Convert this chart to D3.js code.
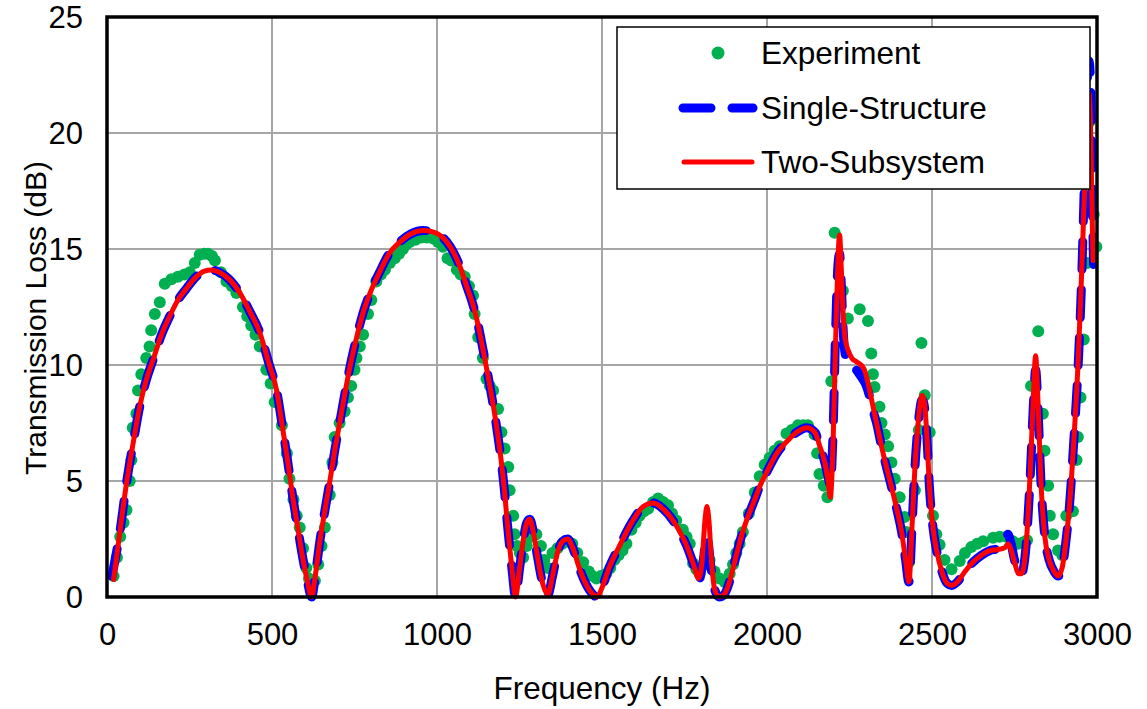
<!DOCTYPE html>
<html>
<head>
<meta charset="utf-8">
<script src="https://cdn.jsdelivr.net/npm/d3@7"></script>
<style>
  body { margin: 0; background: #fff; }
  text { font-family: "Liberation Sans", Arial, sans-serif; fill: #000; }
</style>
</head>
<body>
<svg id="chart" width="1147" height="709"></svg>
<script>
var dimensions = {
    width: 1147,
    height: 709,
    margin: { top: 17, bottom: 112, left: 107, right: 50 }
}

var xTicks = [0, 500, 1000, 1500, 2000, 2500, 3000];
var yTicks = [0, 5, 10, 15, 20, 25];
var seriesNames = ['Experiment', 'Single-Structure', 'Two-Subsystem'];

// experiment (Hz, dB)
var expFreq = [20, 30, 40, 50, 59, 69, 74, 78, 89, 94, 104, 119, 129, 134, 145, 160, 175, 195, 215, 235,
  251, 266, 281, 295, 306, 318, 327, 345, 362, 378, 392, 412, 425, 437, 450, 463, 483, 496, 508, 530,
  545, 553, 565, 575, 584, 594, 604, 612, 619, 630, 640, 650, 660, 675, 683, 690, 705, 720, 730, 740,
  750, 756, 766, 776, 791, 801, 816, 830, 842, 857, 872, 885, 897, 907, 917, 935, 953, 970, 988, 1003,
  1018, 1032, 1043, 1060, 1072, 1084, 1097, 1109, 1114, 1125, 1139, 1150, 1160, 1170, 1185, 1195, 1205, 1216, 1220, 1231,
  1235, 1243, 1251, 1261, 1272, 1285, 1301, 1315, 1325, 1336, 1350, 1365, 1380, 1395, 1410, 1425, 1443, 1460, 1472, 1483,
  1496, 1513, 1525, 1538, 1550, 1562, 1574, 1589, 1602, 1614, 1627, 1640, 1655, 1670, 1685, 1700, 1712, 1725, 1745, 1756,
  1766, 1776, 1786, 1796, 1810, 1826, 1841, 1856, 1872, 1887, 1897, 1907, 1917, 1927, 1945, 1963, 1978, 1993, 2008, 2023,
  2038, 2059, 2075, 2094, 2110, 2124, 2144, 2152, 2159, 2172, 2183, 2195, 2205, 2230, 2245, 2281, 2306, 2316, 2321, 2326,
  2341, 2347, 2357, 2367, 2377, 2387, 2402, 2417, 2422, 2430, 2448, 2460, 2468, 2478, 2493, 2503, 2513, 2523, 2538, 2559,
  2584, 2600, 2619, 2637, 2655, 2685, 2705, 2725, 2745, 2760, 2775, 2788, 2800, 2822, 2836, 2841, 2852, 2857, 2867, 2882,
  2895, 2907, 2927, 2938, 2942, 2950, 2960, 2970, 2978, 2990, 2998];
var expTL = [0.9, 1.7, 2.6, 3.2, 3.75, 5.0, 5.9, 7.3, 7.9, 8.9, 9.6, 10.3, 10.8, 11.5, 12.2, 12.7, 13.5, 13.7, 13.8, 13.9,
  14.0, 14.4, 14.75, 14.8, 14.8, 14.7, 14.5, 14.0, 13.6, 13.4, 13.1, 12.5, 12.1, 11.7, 11.3, 10.8, 9.8, 9.2, 8.4, 7.4,
  6.2, 5.1, 4.2, 3.5, 3.0, 2.1, 1.25, 0.8, 0.5, 0.7, 1.4, 2.2, 3.0, 4.4, 5.8, 6.9, 7.5, 8.0, 8.6, 9.1,
  9.8, 10.3, 10.8, 11.3, 12.2, 12.8, 13.6, 13.9, 14.1, 14.4, 14.6, 14.8, 15.0, 15.2, 15.3, 15.4, 15.5, 15.5, 15.45, 15.3,
  15.1, 14.6, 14.5, 14.1, 13.9, 13.8, 13.4, 13.0, 12.2, 11.2, 10.3, 9.4, 9.1, 8.9, 8.1, 7.1, 6.4, 5.6, 4.6, 3.5,
  2.7, 2.2, 1.9, 1.7, 2.2, 2.6, 2.7, 2.2, 1.6, 1.25, 1.9, 2.1, 2.3, 2.4, 2.3, 1.9, 1.5, 1.1, 0.9, 0.8,
  0.9, 1.0, 1.25, 1.6, 1.8, 2.0, 2.3, 2.9, 3.2, 3.5, 3.7, 3.8, 4.1, 4.25, 4.1, 3.95, 3.6, 3.3, 2.9, 2.6,
  2.3, 1.45, 1.2, 1.0, 1.4, 1.6, 1.1, 0.8, 0.65, 1.0, 1.4, 1.9, 2.3, 2.8, 3.6, 4.5, 5.2, 5.7, 6.0, 6.3,
  6.5, 7.05, 7.2, 7.4, 7.4, 7.4, 7.0, 6.2, 5.3, 4.8, 4.3, 9.3, 15.7, 13.2, 12.0, 12.4, 11.9, 10.5, 9.6, 9.05,
  8.2, 7.5, 7.0, 6.5, 5.8, 5.1, 4.3, 3.45, 2.8, 1.5, 4.6, 7.2, 10.95, 8.7, 7.1, 3.5, 2.7, 2.25, 1.6, 1.2,
  1.55, 1.9, 2.15, 2.3, 2.4, 2.55, 2.6, 2.6, 2.4, 2.3, 2.35, 2.45, 9.1, 11.45, 7.9, 6.3, 4.8, 3.5, 2.7, 2.0,
  1.8, 3.5, 3.7, 5.9, 6.9, 8.6, 11.1, 14.4, 20.5, 16.5, 15.1];

// two-subsystem model (Hz, dB)
var twoFreq = [20, 40, 59, 80, 99, 120, 139, 165, 190, 215, 241, 270, 295, 317, 340, 370, 403, 433, 463, 490,
  514, 532, 548, 563, 578, 593, 607, 620, 632, 645, 660, 675, 690, 705, 720, 736, 755, 775, 800, 826,
  855, 887, 920, 957, 985, 1008, 1040, 1068, 1090, 1109, 1125, 1139, 1155, 1170, 1185, 1196, 1205, 1213, 1220, 1228,
  1238, 1250, 1262, 1272, 1281, 1292, 1305, 1320, 1336, 1350, 1365, 1380, 1396, 1412, 1430, 1450, 1470, 1485, 1500, 1520,
  1553, 1594, 1625, 1655, 1685, 1715, 1740, 1757, 1775, 1793, 1803, 1812, 1818, 1824, 1832, 1842, 1855, 1870, 1885, 1900,
  1920, 1938, 1960, 1979, 2000, 2030, 2060, 2090, 2121, 2145, 2160, 2175, 2185, 2192, 2200, 2208, 2215, 2220, 2225, 2230,
  2237, 2247, 2257, 2270, 2285, 2295, 2305, 2317, 2332, 2347, 2362, 2378, 2393, 2408, 2420, 2430, 2440, 2448, 2460, 2470,
  2477, 2485, 2492, 2503, 2514, 2530, 2545, 2560, 2580, 2600, 2624, 2650, 2675, 2700, 2715, 2723, 2730, 2738, 2750, 2763,
  2771, 2785, 2798, 2807, 2814, 2821, 2830, 2842, 2855, 2870, 2882, 2895, 2905, 2917, 2930, 2943, 2953, 2963, 2970, 2976,
  2980, 2984, 2988];
var twoTL = [0.75, 2.9, 4.9, 6.7, 8.2, 9.4, 10.2, 11.3, 12.1, 12.8, 13.3, 13.8, 14.05, 14.1, 14.0, 13.7, 13.1, 12.3, 11.4, 10.1,
  8.9, 7.3, 5.8, 4.3, 3.0, 1.7, 0.7, 0.0, 1.0, 2.4, 3.7, 4.96, 6.3, 7.5, 8.7, 9.9, 11.1, 12.2, 13.2, 14.0,
  14.8, 15.3, 15.65, 15.8, 15.75, 15.6, 15.1, 14.3, 13.4, 12.6, 11.7, 10.7, 9.5, 8.3, 6.9, 5.7, 4.5, 3.2, 2.2, 1.1,
  0.0, 1.2, 2.5, 3.2, 3.35, 2.8, 1.7, 0.6, 0.1, 0.9, 1.9, 2.4, 2.5, 2.1, 1.3, 0.6, 0.15, 0.0, 0.4, 1.2,
  2.2, 3.3, 3.9, 4.05, 3.8, 3.3, 2.7, 2.2, 1.5, 0.8, 1.5, 3.3, 3.9, 3.3, 1.5, 0.3, 0.0, 0.1, 0.6, 1.4,
  2.5, 3.3, 4.1, 4.8, 5.4, 6.2, 6.7, 7.1, 7.3, 7.1, 6.5, 5.8, 5.0, 4.3, 6.5, 11.0, 14.5, 15.6, 14.2, 12.4,
  11.1, 10.6, 10.3, 10.15, 10.0, 9.8, 9.3, 8.5, 7.5, 6.5, 5.6, 4.7, 3.8, 2.8, 1.6, 0.65, 3.2, 5.5, 7.8, 8.7,
  8.4, 6.8, 4.8, 3.0, 2.0, 1.1, 0.6, 0.5, 0.7, 1.1, 1.5, 1.8, 2.0, 2.05, 2.1, 2.15, 2.3, 2.1, 1.5, 1.0,
  1.0, 2.2, 5.5, 8.6, 10.4, 8.5, 5.0, 2.6, 1.6, 1.1, 0.9, 1.3, 2.3, 4.0, 6.8, 10.2, 13.8, 17.8, 20.3, 21.7,
  20.5, 17.5, 14.5];

// single-structure model (Hz, dB)
var singleFreq = [15, 40, 59, 80, 99, 120, 139, 165, 190, 215, 241, 270, 295, 317, 340, 370, 403, 433, 463, 490,
  514, 532, 548, 563, 578, 593, 607, 620, 632, 645, 660, 675, 690, 705, 720, 736, 755, 775, 800, 826,
  855, 887, 920, 957, 985, 1008, 1040, 1068, 1090, 1109, 1125, 1139, 1155, 1170, 1185, 1196, 1205, 1213, 1220, 1228,
  1238, 1250, 1262, 1272, 1281, 1292, 1305, 1320, 1336, 1350, 1365, 1380, 1396, 1412, 1430, 1450, 1470, 1485, 1500, 1520,
  1553, 1594, 1625, 1655, 1685, 1715, 1740, 1757, 1775, 1793, 1805, 1818, 1830, 1842, 1855, 1870, 1885, 1900,
  1920, 1938, 1960, 1979, 2000, 2030, 2060, 2090, 2121, 2145, 2160, 2175, 2185, 2192, 2200, 2208, 2215, 2220, 2225, 2232,
  2240, 2255, 2270, 2285, 2298, 2310, 2320, 2332, 2347, 2362, 2378, 2393, 2408, 2420, 2430, 2440, 2448, 2460, 2470,
  2477, 2485, 2492, 2503, 2514, 2530, 2545, 2560, 2580, 2600, 2624, 2650, 2675, 2700, 2715, 2723, 2730, 2738, 2750, 2763,
  2771, 2785, 2798, 2807, 2814, 2821, 2830, 2842, 2855, 2870, 2882, 2895, 2905, 2917, 2930, 2943, 2953, 2963, 2970, 2976,
  2981, 2985, 2990];
var singleTL = [0.9, 2.9, 4.9, 6.7, 8.2, 9.4, 10.2, 11.3, 12.1, 12.8, 13.3, 13.8, 14.05, 14.1, 14.0, 13.7, 13.1, 12.3, 11.4, 10.1,
  8.9, 7.3, 5.8, 4.3, 3.0, 1.7, 0.7, 0.0, 1.0, 2.4, 3.7, 4.96, 6.3, 7.5, 8.7, 9.9, 11.1, 12.2, 13.2, 14.0,
  14.8, 15.3, 15.65, 15.8, 15.75, 15.6, 15.1, 14.3, 13.4, 12.6, 11.7, 10.7, 9.5, 8.3, 6.9, 5.7, 4.5, 3.2, 2.2, 1.1,
  0.0, 1.2, 2.5, 3.2, 3.35, 2.8, 1.7, 0.6, 0.1, 0.9, 1.9, 2.4, 2.5, 2.1, 1.3, 0.6, 0.15, 0.0, 0.4, 1.2,
  2.2, 3.3, 3.9, 4.05, 3.8, 3.3, 2.7, 2.2, 1.5, 0.7, 1.4, 2.6, 1.3, 0.3, 0.0, 0.1, 0.6, 1.4,
  2.5, 3.3, 4.1, 4.8, 5.4, 6.2, 6.7, 7.1, 7.3, 7.1, 6.5, 5.8, 5.2, 4.8, 7.0, 11.5, 14.3, 14.8, 13.5, 11.2,
  10.3, 10.0, 9.8, 9.5, 9.2, 8.7, 8.1, 7.5, 6.5, 5.6, 4.7, 3.8, 2.8, 1.6, 0.65, 3.2, 5.5, 7.7, 8.5,
  8.2, 6.8, 4.8, 3.0, 2.0, 1.1, 0.6, 0.5, 0.7, 1.1, 1.5, 1.8, 2.0, 2.1, 2.3, 2.5, 2.7, 2.4, 1.6, 1.0,
  1.0, 2.2, 5.3, 8.2, 9.8, 8.2, 5.0, 2.6, 1.6, 1.1, 0.9, 1.3, 2.3, 4.0, 6.8, 10.0, 13.5, 18.5, 22.0, 23.1,
  22.0, 18.0, 14.0];

function zip(f, v) { return f.map(function(d, i) { return { f: d, v: v[i] }; }); }
var expData = zip(expFreq, expTL);
var twoData = zip(twoFreq, twoTL);
var singleData = zip(singleFreq, singleTL);

var svg = d3.select("#chart")

var xScale = d3.scaleLinear()
    .domain([0, 3000])
    .range([dimensions.margin.left, dimensions.width - dimensions.margin.right])
var yScale = d3.scaleLinear()
    .domain([0, 25])
    .range([dimensions.height - dimensions.margin.bottom, dimensions.margin.top])

// grid
svg.append("g").selectAll("line")
    .data(xTicks.slice(1, -1))
    .enter().append("line")
    .attr("x1", d => xScale(d)).attr("x2", d => xScale(d))
    .attr("y1", yScale(0)).attr("y2", yScale(25))
    .attr("stroke", "#a6a6a6").attr("stroke-width", 2)
svg.append("g").selectAll("line")
    .data(yTicks.slice(1, -1))
    .enter().append("line")
    .attr("y1", d => yScale(d)).attr("y2", d => yScale(d))
    .attr("x1", xScale(0)).attr("x2", xScale(3000))
    .attr("stroke", "#a6a6a6").attr("stroke-width", 2)

// experiment dots
svg.append("g").selectAll("circle")
    .data(expData)
    .enter().append("circle")
    .attr("cx", d => xScale(d.f))
    .attr("cy", d => yScale(d.v))
    .attr("r", 6)
    .attr("fill", "#00b050")

var line = d3.line()
    .x(d => xScale(d.f))
    .y(d => yScale(d.v))
    .curve(d3.curveMonotoneX)

svg.append("path")
    .datum(singleData)
    .attr("d", line)
    .attr("fill", "none")
    .attr("stroke", "#0000ff")
    .attr("stroke-width", 9)
    .attr("stroke-linecap", "round")
    .attr("stroke-linejoin", "round")
    .attr("stroke-dasharray", "28 20")

svg.append("path")
    .datum(twoData)
    .attr("d", line)
    .attr("fill", "none")
    .attr("stroke", "#ff0000")
    .attr("stroke-width", 5)
    .attr("stroke-linecap", "round")
    .attr("stroke-linejoin", "round")

// frame
svg.append("rect")
    .attr("x", xScale(0)).attr("y", yScale(25))
    .attr("width", xScale(3000) - xScale(0))
    .attr("height", yScale(0) - yScale(25))
    .attr("fill", "none")
    .attr("stroke", "#000")
    .attr("stroke-width", 3.5)

// axes
var xAxisgen = d3.axisBottom(xScale).tickValues(xTicks).tickFormat(d3.format("d")).tickSize(0).tickPadding(26)
var yAxisgen = d3.axisLeft(yScale).tickValues(yTicks).tickFormat(d3.format("d")).tickSize(0).tickPadding(24)
var xAxis = svg.append("g")
    .attr("transform", `translate(0,${yScale(0)})`)
    .call(xAxisgen)
xAxis.select(".domain").remove()
xAxis.selectAll("text").style("font-size", "31px").attr("fill", "#000")
var yAxis = svg.append("g")
    .attr("transform", `translate(${xScale(0)},0)`)
    .call(yAxisgen)
yAxis.select(".domain").remove()
yAxis.selectAll("text").style("font-size", "31px").attr("fill", "#000").attr("dy", "0.35em")

svg.append("text")
    .attr("x", (xScale(0) + xScale(3000)) / 2)
    .attr("y", 688)
    .attr("text-anchor", "middle")
    .attr("dominant-baseline", "central")
    .style("font-size", "31.5px")
    .text("Frequency (Hz)")
svg.append("text")
    .attr("transform", `translate(35,318) rotate(-90)`)
    .attr("text-anchor", "middle")
    .attr("dominant-baseline", "central")
    .style("font-size", "30px")
    .text("Transmission Loss (dB)")

// legend
var legend = svg.append("g")
legend.append("rect")
    .attr("x", 617).attr("y", 27).attr("width", 473).attr("height", 162)
    .attr("fill", "#fff").attr("stroke", "#000").attr("stroke-width", 1.5)
var rowY = [53, 108, 162]
legend.append("circle").attr("cx", 718).attr("cy", rowY[0]).attr("r", 6.5).attr("fill", "#00b050")
legend.append("line")
    .attr("x1", 683).attr("x2", 753).attr("y1", rowY[1]).attr("y2", rowY[1])
    .attr("stroke", "#0000ff").attr("stroke-width", 9)
    .attr("stroke-linecap", "round").attr("stroke-dasharray", "28 21")
legend.append("line")
    .attr("x1", 684).attr("x2", 752).attr("y1", rowY[2]).attr("y2", rowY[2])
    .attr("stroke", "#ff0000").attr("stroke-width", 5).attr("stroke-linecap", "round")
legend.selectAll("text.lab")
    .data(seriesNames)
    .enter().append("text")
    .attr("x", 761)
    .attr("y", (d, i) => rowY[i])
    .attr("dominant-baseline", "central")
    .style("font-size", "31.5px")
    .text(d => d)
</script>
</body>
</html>
